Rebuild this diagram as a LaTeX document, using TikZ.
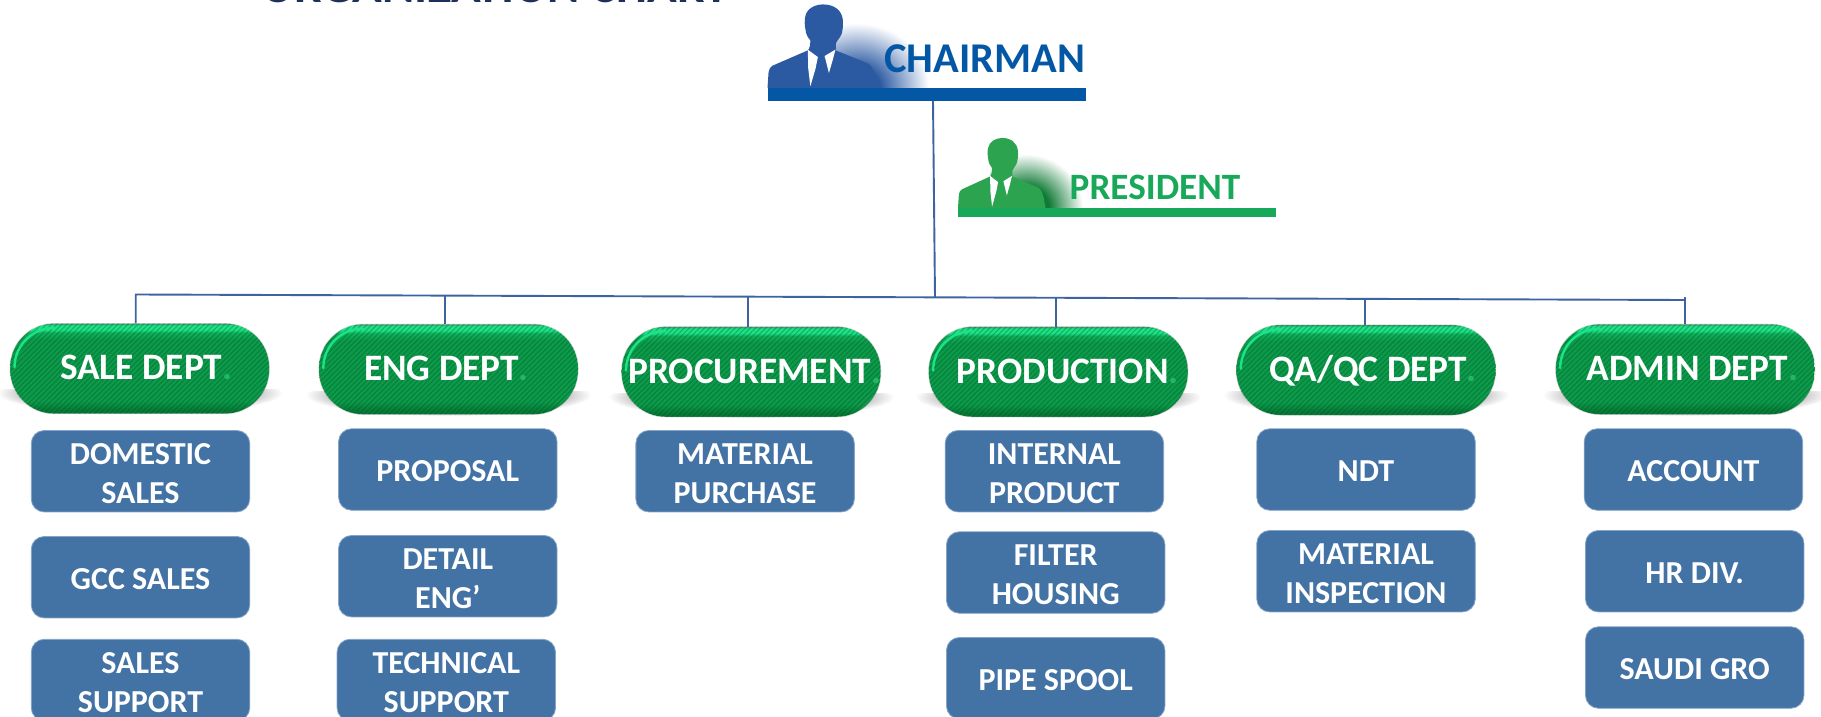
\documentclass[tikz,border=0pt]{standalone}
\usepackage{fontspec}
\setmainfont{Carlito}
\usetikzlibrary{patterns.meta,calc}
\definecolor{chairblue}{HTML}{0457A5}
\definecolor{figblue}{HTML}{2B5AA2}
\definecolor{presgreen}{HTML}{17A85A}
\definecolor{figgreen}{HTML}{2CA44F}
\definecolor{glowgreen}{HTML}{0F7A35}
\definecolor{boxblue}{HTML}{4372A5}
\definecolor{boxedge}{HTML}{86A4C8}
\definecolor{linkblue}{HTML}{3D64A0}
\definecolor{dotgreen}{HTML}{22B56C}
\definecolor{titlenavy}{HTML}{1F2F5C}
\definecolor{pillbot}{HTML}{067A3A}
\definecolor{pillmid}{HTML}{0C9A4E}
\definecolor{pilltop}{HTML}{10B060}
\definecolor{pillhi}{HTML}{1CE28A}
\definecolor{pilledge}{HTML}{3E9A70}
\colorlet{glowa}{black!45}
\colorlet{glowb}{black!25}
\pgfdeclareverticalshading{pillshade}{100bp}{color(0bp)=(pillbot);color(25bp)=(pillbot);color(27bp)=(pillbot);color(32bp)=(pillmid);color(66bp)=(pillmid);color(70bp)=(pilltop);color(71.5bp)=(pillhi);color(74bp)=(pillhi);color(75bp)=(pilledge);color(100bp)=(pilledge)}
\pgfdeclareradialshading{glowblue}{\pgfpointorigin}{color(0bp)=(figblue);color(8bp)=(figblue);color(25bp)=(white);color(50bp)=(white)}
\pgfdeclareradialshading{glowgrn}{\pgfpointorigin}{color(0bp)=(glowgreen);color(10bp)=(glowgreen);color(25bp)=(white);color(50bp)=(white)}
\pgfdeclareradialshading{pillglow}{\pgfpointorigin}{color(0bp)=(glowa);color(20bp)=(glowb);color(25bp)=(white);color(50bp)=(white)}
\tikzset{
  x=1pt,y=-1pt,
  pillnode/.style={draw=none,inner sep=0pt,rounded corners=44pt,
    minimum width=259pt,minimum height=90pt,text=white,
    font=\fontsize{37.3}{40}\selectfont\bfseries,text height=24pt,text depth=1.5pt},
  subbox/.style={draw=boxedge,line width=0.8pt,fill=boxblue,rounded corners=13pt,inner sep=0pt,
    minimum width=218.5pt,minimum height=81.5pt,text=white,align=center,
    font=\fontsize{32}{39}\selectfont\bfseries,
    execute at begin node={\rule{0pt}{24.5pt}}},
  link/.style={draw=linkblue,line width=1.9pt},
  barnode/.style={inner sep=0pt,draw=none}
}
\newcommand{\pilltxt}[2]{\hspace*{#1pt}#2\textcolor{dotgreen}{.}}
\newcommand{\dn}[1]{\raisebox{-2.2pt}[\height][\depth]{#1}}
% silhouette in reference-zoom units, origin at bottom left of the figure
\newcommand{\silhouette}[3]{%
  \begin{scope}[shift={(#1)},#2]
    \fill[#3] (0,0) -- (3,-48) .. controls (5,-58) and (8,-64) .. (14,-67) -- (113,-113)
      .. controls (118,-118) and (120,-130) .. (120,-143) .. controls (112,-152) and (107,-165) .. (107,-172)
      .. controls (104,-185) and (103,-205) .. (106,-215) .. controls (110,-240) and (135,-251) .. (156,-251)
      .. controls (185,-251) and (208,-235) .. (211,-205) .. controls (212,-190) and (211,-175) .. (208,-163)
      .. controls (203,-150) and (195,-143) .. (192,-135) -- (191,-113) -- (283,-73)
      .. controls (293,-65) and (300,-50) .. (303,-30) -- (308,0) -- cycle;
    \fill[white] (113,-115) -- (141,-93) -- (135,-60) -- (120,-5) -- (114,-60) -- cycle;
    \fill[white] (190,-115) -- (160,-96) -- (172,-45) -- (183,-85) -- cycle;
  \end{scope}}
\begin{document}
\begin{tikzpicture}
\useasboundingbox (0,0) rectangle (1821,717);
% clipped title at the top edge
\node[anchor=base,inner sep=0pt,text=titlenavy,font=\fontsize{49}{52}\selectfont\bfseries] (title) at (495,3) {ORGANIZATION CHART};

% chairman
\begin{scope}
  \clip (820,20) rectangle (1000,88);
  \shade[shading=glowblue] (857,88) ellipse [x radius=72,y radius=65];
\end{scope}
\silhouette{767.5,88}{xscale=0.357,yscale=0.333}{figblue}
\node[barnode,fill=chairblue,minimum width=318.5pt,minimum height=13pt] (chbar) at (926.75,94.5) {};
\node[anchor=base west,inner sep=0pt,text=chairblue,font=\fontsize{42.4}{44}\selectfont\bfseries] (chair) at (884,73) {CHAIRMAN};

% president
\begin{scope}
  \clip (990,150) rectangle (1150,208);
  \shade[shading=glowgrn] (1026,208) ellipse [x radius=57,y radius=54];
\end{scope}
\silhouette{958,208}{xscale=0.284,yscale=0.279}{figgreen}
\node[barnode,fill=presgreen,minimum width=318pt,minimum height=9pt] (prbar) at (1117,212.5) {};
\node[anchor=base west,inner sep=0pt,text=presgreen,font=\fontsize{37.2}{40}\selectfont\bfseries] (pres) at (1069.5,199) {PRESIDENT};

% pill glows, drawn behind
\foreach \cx/\cy in {139.7/413,448.5/415,751.2/417,1058.3/417,1366/415,1685.3/415}{
  \begin{scope}
    \clip (\cx-150,\cy-24) rectangle (\cx+150,\cy+1);
    \shade[shading=pillglow] (\cx,\cy-20) ellipse [x radius=143,y radius=21];
  \end{scope}
}

% department pills
\foreach \nm/\cx/\cy/\shft/\lbl in {
  sale/139.7/368.6/13/{SALE DEPT},
  eng/448.5/369.3/-4/{ENG DEPT},
  proc/751.2/371.8/7/{PROCUREMENT},
  prod/1058.3/371.8/19/{PRODUCTION},
  qaqc/1366/370/14/{QA/QC DEPT},
  admin/1685.3/369.3/14/{ADMIN DEPT}}{
  \node[pillnode,shade,shading=pillshade] (\nm) at (\cx,\cy) {};
  \fill[pattern={Lines[angle=45,distance=3.6pt,line width=1.1pt]},pattern color=black!70!green,opacity=0.3,rounded corners=44pt]
    (\nm.south west) rectangle (\nm.north east);
  \draw[pillhi,line width=2.4pt,line cap=round]
    ($(\nm.north west)+(4.5,44)$) arc [start angle=180,end angle=90,radius=39.5pt];
  \draw[draw=black!35!white,opacity=0.35,line width=0.8pt,rounded corners=44pt] (\nm.south west) rectangle (\nm.north east);
  \node[pillnode,fill=none] (\nm t) at (\cx,\cy) {\pilltxt{\shft}{\lbl}};
}

% connectors
\coordinate (busL) at (135.7,294.5);
\coordinate (busR) at (1685,300);
\coordinate (busT) at (935,297.3);
\coordinate (chdrop) at (933,101);
\coordinate (b2) at (444.7,296);
\coordinate (b3) at (747.8,297);
\coordinate (b4) at (1056.3,298);
\coordinate (b5) at (1365,299);
\coordinate (b6) at (1685,297);
\draw[link] (chdrop) -- (busT);
\draw[link,line join=miter] (busL |- sale.north) -- (busL) -- (busR);
\draw[link] (b2) -- (b2 |- eng.north);
\draw[link] (b3) -- (b3 |- proc.north);
\draw[link] (b4) -- (b4 |- prod.north);
\draw[link] (b5) -- (b5 |- qaqc.north);
\draw[link] (b6) -- (b6 |- admin.north);

% sub-department boxes
\node[subbox] (s1) at (140.5,471.2) {\dn{DOMESTIC}\\\dn{SALES}};
\node[subbox] (s2) at (140.5,577.2) {GCC SALES};
\node[subbox] (s3) at (140.5,680) {\dn{SALES}\\\dn{SUPPORT}};
\node[subbox] (e1) at (447.8,469.5) {PROPOSAL};
\node[subbox] (e2) at (447.8,576.2) {\dn{DETAIL}\\\dn{ENG’}};
\node[subbox] (e3) at (446.3,680) {\dn{TECHNICAL}\\\dn{SUPPORT}};
\node[subbox] (p1) at (745.1,471.2) {\dn{MATERIAL}\\\dn{PURCHASE}};
\node[subbox] (d1) at (1054.4,471.2) {\dn{INTERNAL}\\\dn{PRODUCT}};
\node[subbox] (d2) at (1055.7,572.5) {\dn{FILTER}\\\dn{HOUSING}};
\node[subbox] (d3) at (1055.7,678.2) {PIPE SPOOL};
\node[subbox] (q1) at (1366,469.5) {NDT};
\node[subbox] (q2) at (1366,571.2) {\dn{MATERIAL}\\\dn{INSPECTION}};
\node[subbox] (a1) at (1693.4,469.5) {ACCOUNT};
\node[subbox] (a2) at (1694.7,571.2) {HR DIV.};
\node[subbox] (a3) at (1694.7,667.5) {SAUDI GRO};
\end{tikzpicture}
\end{document}
